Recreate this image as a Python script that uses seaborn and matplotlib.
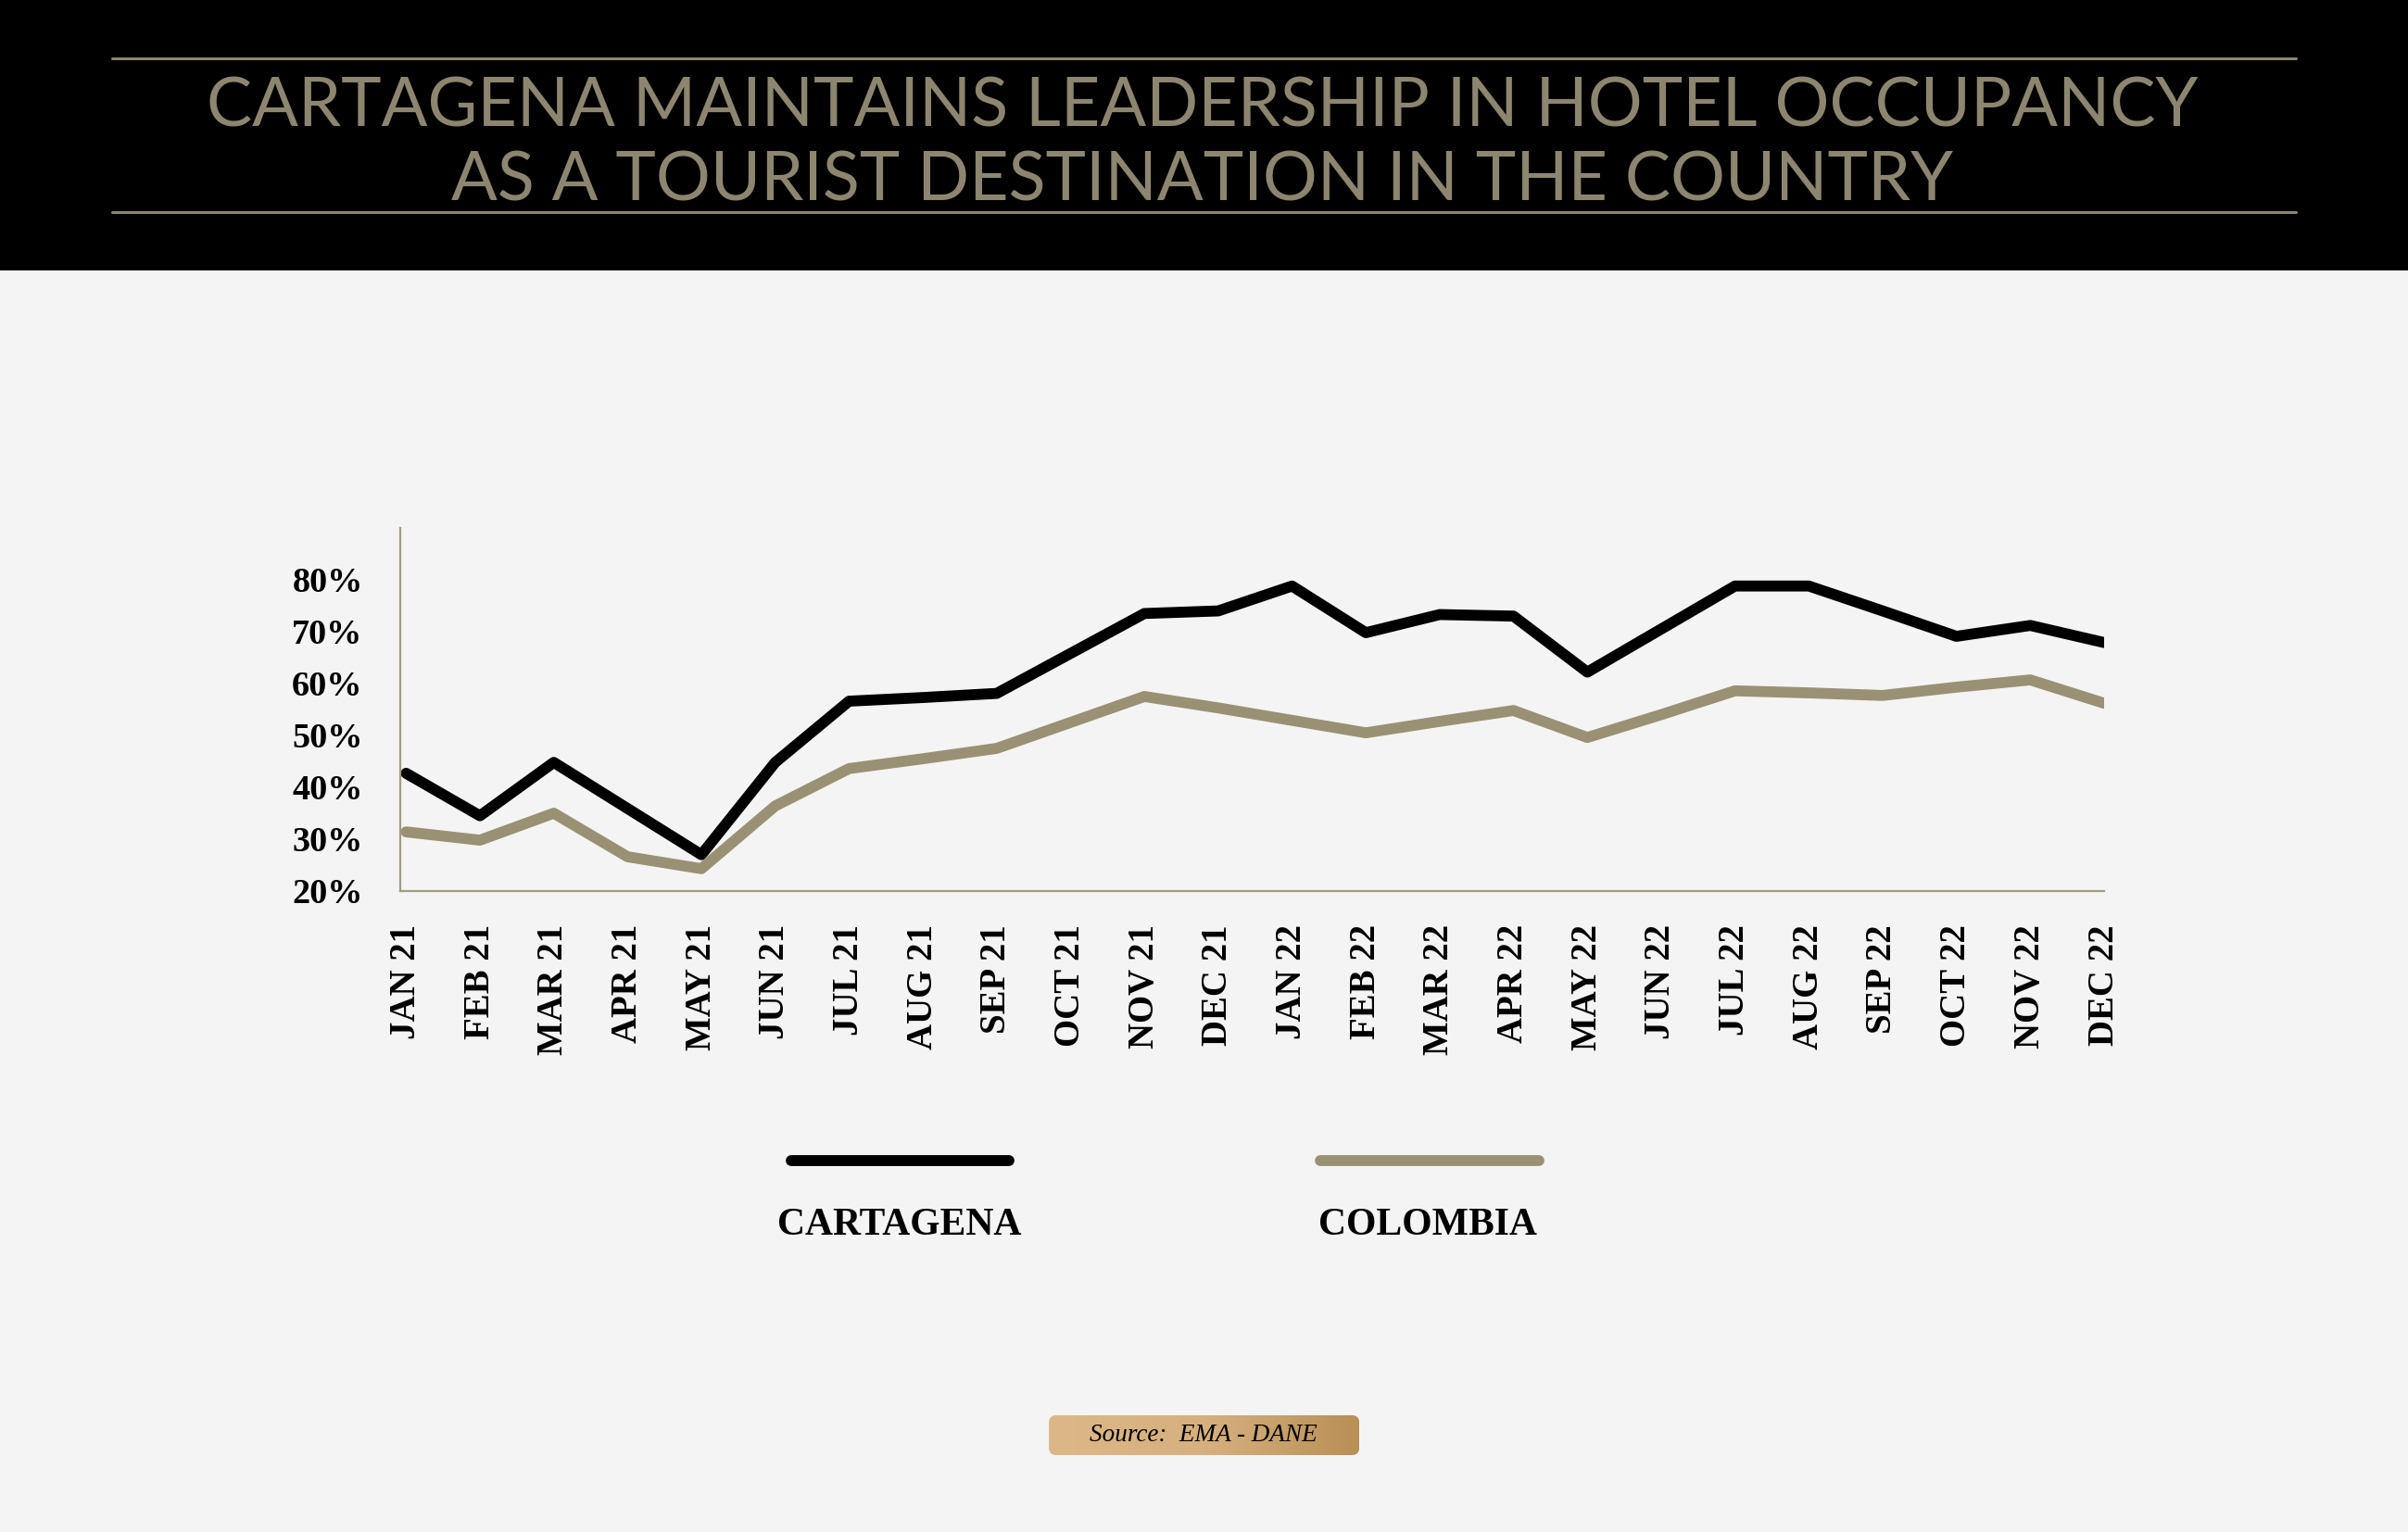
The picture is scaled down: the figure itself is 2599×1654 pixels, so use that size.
import numpy as np
import pandas as pd
import seaborn as sns
import matplotlib.pyplot as plt
from matplotlib.patches import Rectangle, FancyBboxPatch
from matplotlib.lines import Line2D

# Data (hotel occupancy, %)
months = ['JAN 21', 'FEB 21', 'MAR 21', 'APR 21', 'MAY 21', 'JUN 21', 'JUL 21', 'AUG 21',
          'SEP 21', 'OCT 21', 'NOV 21', 'DEC 21', 'JAN 22', 'FEB 22', 'MAR 22', 'APR 22',
          'MAY 22', 'JUN 22', 'JUL 22', 'AUG 22', 'SEP 22', 'OCT 22', 'NOV 22', 'DEC 22']
cartagena = [42.7, 34.5, 44.8, 35.9, 27.0, 44.8, 56.6, 57.3, 58.1, 65.8, 73.5, 74.0,
             78.8, 69.8, 73.3, 73.0, 62.2, 70.5, 78.8, 78.8, 74.0, 69.1, 71.2, 67.9]
colombia = [31.4, 29.8, 35.0, 26.6, 24.3, 36.4, 43.6, 45.5, 47.5, 52.5, 57.5, 55.3,
            52.9, 50.5, 52.7, 54.8, 49.6, 54.0, 58.6, 58.2, 57.7, 59.3, 60.7, 56.2]
series_names = ['CARTAGENA', 'COLOMBIA']
y_ticks = [20, 30, 40, 50, 60, 70, 80]

title_lines = ['CARTAGENA MAINTAINS LEADERSHIP IN HOTEL OCCUPANCY',
               'AS A TOURIST DESTINATION IN THE COUNTRY']
source_text = 'Source:  EMA - DANE'

bg = '#f4f4f4'
gold = '#8c8670'
palette = {'CARTAGENA': '#000000', 'COLOMBIA': '#9a9174'}

df = pd.DataFrame({'idx': list(range(len(months))) * 2,
                   'value': cartagena + colombia,
                   'serie': [series_names[0]] * len(months) + [series_names[1]] * len(months)})

sns.set_style('white')
plt.rcParams['font.family'] = ['Liberation Serif', 'DejaVu Serif']

fig = plt.figure(figsize=(25.99, 16.54), dpi=100, facecolor=bg)

# header band
fig.patches.append(Rectangle((0, 0.8235), 1, 0.1765, transform=fig.transFigure,
                             facecolor='#000000', edgecolor='none', zorder=0))
for yy in [0.9619, 0.8615]:
    fig.add_artist(Line2D([0.0466, 0.9535], [yy, yy], transform=fig.transFigure,
                          color=gold, linewidth=2.2))
fig.text(0.4994, 0.930, title_lines[0], ha='center', va='center', color=gold,
         fontsize=53, family=['Lato', 'DejaVu Sans'], fontweight='normal')
fig.text(0.4994, 0.8815, title_lines[1], ha='center', va='center', color=gold,
         fontsize=53, family=['Lato', 'DejaVu Sans'], fontweight='normal')

# main chart
ax = fig.add_axes([0.1662, 0.4184, 0.7076, 0.2370])
ax.set_facecolor(bg)
sns.lineplot(data=df, x='idx', y='value', hue='serie', palette=palette,
             linewidth=8.5, legend=False, ax=ax)
ax.set_xlim(-0.08, len(months) - 1)
ax.set_ylim(20, 90)
ax.set_xticks(range(len(months)))
ax.set_xticklabels(months, rotation=90, fontsize=28, fontweight='bold', va='top')
ax.set_yticks(y_ticks)
ax.set_yticklabels([f'{v}%' for v in y_ticks], fontsize=27.5, fontweight='bold')
ax.tick_params(axis='x', length=0, pad=26, labelcolor='#000000')
ax.tick_params(axis='y', length=0, pad=29, labelcolor='#000000')
ax.set_xlabel('')
ax.set_ylabel('')
for s in ['top', 'right']:
    ax.spines[s].set_visible(False)
for s in ['left', 'bottom']:
    ax.spines[s].set_color('#a29c80')
    ax.spines[s].set_linewidth(1.6)

# legend: key line with the label below it
legend_pos = [(0.3286, 0.4190, 0.3736), (0.5483, 0.6391, 0.5929)]
for name, (x0, x1, xc) in zip(series_names, legend_pos):
    fig.add_artist(Line2D([x0, x1], [0.2424, 0.2424], transform=fig.transFigure,
                          color=palette[name], linewidth=8.5, solid_capstyle='round'))
    fig.text(xc, 0.2001, name, ha='center', va='center', fontsize=30,
             fontweight='bold', color='#000000')

# source badge with gold gradient (axes sized in pixels: 335 x 43)
sax = fig.add_axes([0.4356, 0.0502, 0.1289, 0.0260])
sax.set_axis_off()
bw, bh = 335, 43
grad = np.linspace(0, 1, 256).reshape(1, -1)
cmap = sns.blend_palette(['#dcb888', '#d6b07f', '#b88f55'], as_cmap=True)
im = sax.imshow(grad, aspect='auto', cmap=cmap, extent=[0, bw, 0, bh])
box = FancyBboxPatch((0, 0), bw, bh, boxstyle='round,pad=0,rounding_size=8',
                     transform=sax.transData, facecolor='none', edgecolor='none')
sax.add_patch(box)
im.set_clip_path(box)
sax.set_xlim(0, bw)
sax.set_ylim(0, bh)
fig.text(0.4998, 0.0632, source_text, ha='center', va='center', fontsize=19.5,
         style='italic', color='#000000')

fig.savefig('out.png', dpi=100, facecolor=bg)
